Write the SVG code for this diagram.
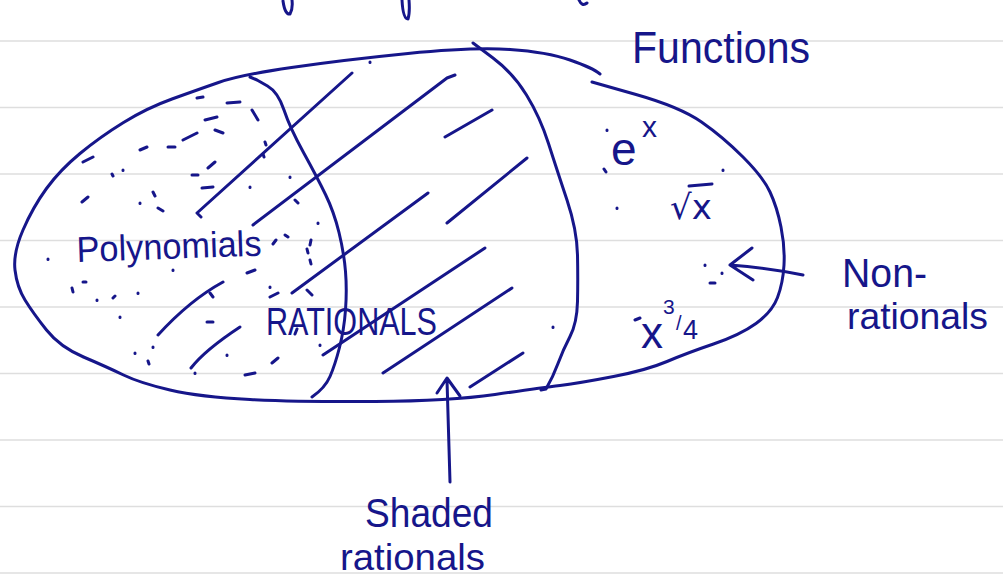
<svg xmlns="http://www.w3.org/2000/svg" width="1003" height="576" viewBox="0 0 1003 576">
<style>
.rule{stroke:#dedede;stroke-width:1.6;fill:none}
.ink{fill:none;stroke:#16168a;stroke-width:3;stroke-linecap:round;stroke-linejoin:round}
.dot{fill:none;stroke:#16168a;stroke-width:3;stroke-linecap:round}
.hand{font-family:"Liberation Sans","DejaVu Sans",sans-serif;fill:#16168a}
</style>
<rect width="1003" height="576" fill="#ffffff"/>
<g id="paper-rules">
<path class="rule" d="M0,41H1003M0,107.5H1003M0,174H1003M0,240.5H1003M0,307H1003M0,373.5H1003M0,440H1003M0,506.5H1003M0,573H1003"/>
</g>
<g id="top-fragments">
<path class="ink" d="M283,1 Q285,15 290,14 Q293,9 292,0 M402,0 Q403,19 408,19 Q410,13 409,0 M579,0 Q582,7 587,3"/>
</g>
<g id="set-functions">
<path class="ink" d="M592,82 L636,94.5 Q680,107 701.5,122 Q723,137 743,157 Q763,177 770,192 Q777,207 781,227 Q785,247 784,265 Q783,283 777.5,297.5 Q772,312 756,323.5 Q740,335 713.5,344 Q687,353 667,361.5 Q647,370 613.5,376.5 Q580,383 560,385.5 Q540,388 495,394.5 Q450,401 375,401.5 Q300,402 250,399.5 Q200,397 170,390 Q140,383 123.5,375 Q107,367 83.5,357 Q60,347 46.5,330 Q33,313 25,300 Q17,287 15,270 Q13,253 23,230 Q33,207 46.5,188.5 Q60,170 80,153.5 Q100,137 123.5,122.5 Q147,108 172,99 Q197,90 218.5,82.5 Q240,75 291.5,67.5 Q343,60 408,53.5 Q473,47 510,49.5 Q547,52 570,60 Q593,68 600,74"/>
</g>
<g id="set-polynomials">
<path class="ink" d="M250,77 L257,80 L267.5,86 Q278,92 284,110 Q290,128 303.5,152.5 Q317,177 325.5,194.5 Q334,212 339,232.5 Q344,253 345.5,271.5 Q347,290 345.5,310 Q344,330 339.5,347.5 Q335,365 330,376.5 Q325,388 312,397"/>
</g>
<g id="divider-rationals">
<path class="ink" d="M473,43 L493,58 Q513,73 526.5,95 Q540,117 548.5,143.5 Q557,170 567,200 Q577,230 577.5,255 Q578,280 577.5,301.5 Q577,323 570,336.5 Q563,350 558,363.5 Q553,377 546,389 L541,390"/>
</g>
<g id="hatching">
<path class="ink" d="M201,217 L197,213 L352,73 M253,225 L447,78 L455,75 M445,137 L492,110 M292,293 L428,193 M447,223 L527,158 M323,355 L485,248 M383,373 L512,288 M470,387 L523,353 M158,335 Q190,300 223,282 M191,368 Q205,350 240,327"/>
</g>
<g id="stipple">
<path class="dot" d="M197,98 L203,97 M227,103 L240,102 M205,120 L217,117 M183,140 L197,133 M215,130 L223,133 M252,110 L258,120 M140,150 L147,147 M168,147 L175,147 M83,162 L93,157 M112,174 L113,176 M123,170 L123,170.5 M192,175 L198,175 M208,168 L215,162 M265,142 L266,145 M263,154 L264,157 M202,188 L213,187 M250,187 L250,187.5 M290,177 L290,177.5 M82,202 L88,197 M140,203 L140,203.5 M153,192 L155,196 M158,208 L163,211 M295,200 L298,203 M318,223 L318,223.5 M273,244 L276,240 M285,235 L288,237 M311,240 L310,245 M307,249 L308,253 M310,260 L311,264 M48,259 L48,259.5 M173,270 L173,270.5 M247,273 L255,270 M72,288 L73,292 M83,282 L86,282 M97,300 L97,300.5 M113,298 L115,296 M138,293 L138,293.5 M270,287 L270,287.5 M270,297 L278,293 M307,290 L312,295 M210,293 L213,297 M207,322 L213,322 M120,317 L120,317.5 M135,353 L135,353.5 M153,347 L153,347.5 M148,361 L149,364 M227,355 L227,355.5 M195,373 L195,373.5 M245,375 L255,373 M272,363 L278,358 M320,345 L320,345.5 M297,329 L295,334 M370,62 L370,62.5 M553,327 L553,327.5 M607,130 L607,130.5 M604,169 L606,172 M723,170 L723,170.5 M617,208 L617,208.5 M705,265 L705,265.5 M722,273 L722,273.5 M710,283 L715,283 M635,320 L640,318"/>
</g>
<g id="label-functions">
<text class="hand" x="632" y="63" font-size="44" textLength="178" lengthAdjust="spacingAndGlyphs">Functions</text>
</g>
<g id="label-polynomials">
<text class="hand" x="77" y="262" font-size="36" textLength="185" lengthAdjust="spacingAndGlyphs" transform="rotate(-2 77 262)">Polynomials</text>
</g>
<g id="label-rationals">
<text class="hand" x="266" y="335" font-size="38" textLength="171" lengthAdjust="spacingAndGlyphs">RATIONALS</text>
</g>
<g id="label-ex">
<text class="hand" x="611" y="165" font-size="46">e</text>
<text class="hand" x="642" y="137" font-size="30">x</text>
</g>
<g id="label-sqrtx">
<text class="hand" x="670" y="219" font-size="34" style="font-family:'DejaVu Sans',sans-serif">√x</text>
<path class="ink" d="M689,186 L712,184"/>
</g>
<g id="label-x34">
<text class="hand" x="641" y="348" font-size="44">x<tspan x="663" y="314" font-size="21">3</tspan><tspan x="676" y="330" font-size="20">/</tspan><tspan x="683" y="339" font-size="27">4</tspan></text>
</g>
<g id="label-nonrationals">
<text class="hand" x="842" y="287" font-size="40" textLength="85" lengthAdjust="spacingAndGlyphs">Non-</text>
<text class="hand" x="847" y="329" font-size="36" textLength="141" lengthAdjust="spacingAndGlyphs">rationals</text>
</g>
<g id="label-shaded">
<text class="hand" x="365" y="527" font-size="40" textLength="128" lengthAdjust="spacingAndGlyphs">Shaded</text>
<text class="hand" x="340" y="570" font-size="36" textLength="145" lengthAdjust="spacingAndGlyphs">rationals</text>
</g>
<g id="connectors">
<path class="ink" d="M450,482 L447,380 M437,393 L447,378 L460,396"/>
<path class="ink" d="M803,275 Q770,268 730,265 M752,248 L730,265 L753,280"/>
</g>
</svg>
